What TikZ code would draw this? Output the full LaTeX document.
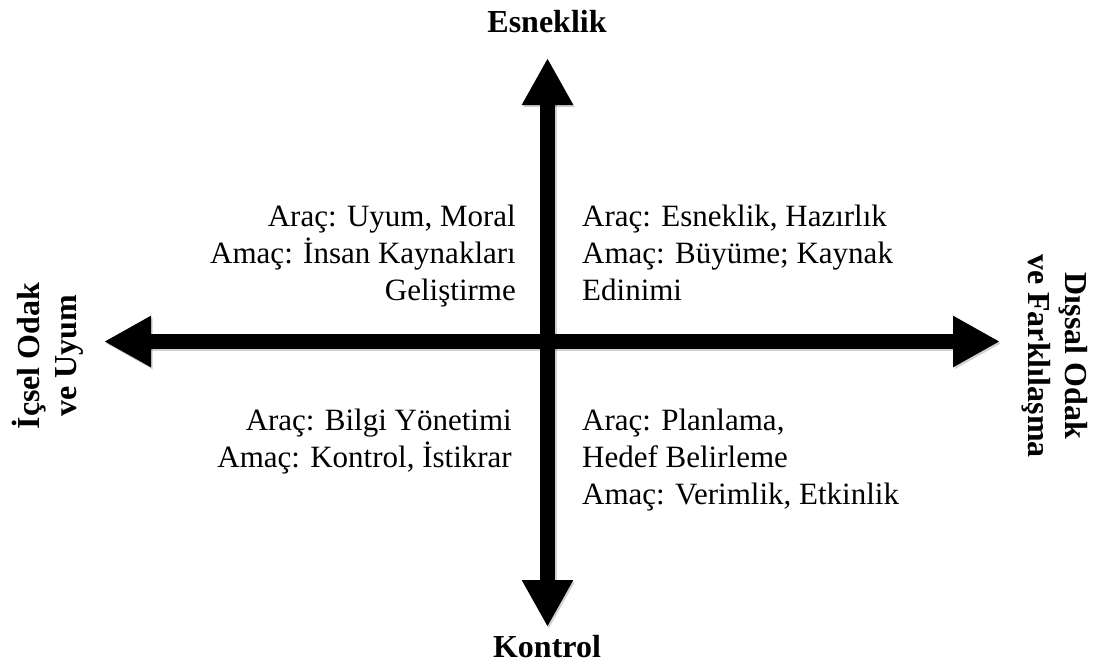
\documentclass[tikz,border=0pt]{standalone}
\usepackage{fontspec}
\setmainfont{Liberation Serif}
\usetikzlibrary{arrows.meta}
\begin{document}
\begin{tikzpicture}[x=1pt,y=-1pt,
  axis/.style={line width=15pt, -{Triangle[length=47pt,width=48pt]}, black,
    preaction={draw=black, opacity=0.18, line width=15pt, transform canvas={shift={(1.5pt,-2pt)}}, -{Triangle[length=47pt,width=48pt]}}},
  qtext/.style={inner sep=0pt, font=\fontsize{31}{37}\selectfont},
  ltext/.style={inner sep=0pt, font=\fontsize{32}{37}\selectfont\bfseries, align=center}]
\path[use as bounding box, fill=white] (0,0) rectangle (1096,664);
\coordinate (c) at (547.5,341.5);
\coordinate (top) at (547.5,58);
\coordinate (bot) at (547.5,627);
\coordinate (lft) at (104,341.5);
\coordinate (rgt) at (1000,341.5);
\draw[axis] (c) -- (top);
\draw[axis] (c) -- (bot);
\draw[axis] (c) -- (lft);
\draw[axis] (c) -- (rgt);
\node[ltext, anchor=base] (esn) at (547,32) {Esneklik};
\node[ltext, anchor=base] (kon) at (547,657) {Kontrol};
\node[ltext, rotate=90] (ic) at (48,356) {İçsel Odak\\ve Uyum};
\node[ltext, rotate=-90] (dis) at (1055,356) {Dışsal Odak\\ve Farklılaşma};
\node[qtext, align=right, anchor=base east] (tl) at (516,300) {Araç: Uyum, Moral\\Amaç: İnsan Kaynakları\\Geliştirme};
\node[qtext, align=left, anchor=base west] (tr) at (582,300) {Araç: Esneklik, Hazırlık\\Amaç: Büyüme; Kaynak\\Edinimi};
\node[qtext, align=right, anchor=base east] (bl) at (512,467) {Araç: Bilgi Yönetimi\\Amaç: Kontrol, İstikrar};
\node[qtext, align=left, anchor=base west] (br) at (582,504) {Araç: Planlama,\\Hedef Belirleme\\Amaç: Verimlik, Etkinlik};
\end{tikzpicture}
\end{document}
